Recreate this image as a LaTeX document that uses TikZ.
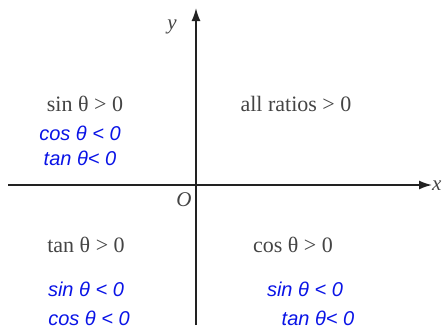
\documentclass[tikz,border=0pt]{standalone}
\usepackage{fontspec}
\setmainfont{Liberation Serif}
\newfontfamily\handfont{Liberation Sans}
\usetikzlibrary{arrows.meta}
\definecolor{axisgray}{HTML}{222222}
\definecolor{textgray}{HTML}{444444}
\definecolor{penblue}{HTML}{0A14E6}
\tikzset{
  axisline/.style={line width=1.6pt, draw=axisgray, -{Latex[length=13pt,width=9pt]}},
  printed/.style={text=textgray, font=\fontsize{22}{24}\selectfont, inner sep=0pt},
  hand/.style={text=penblue, font=\handfont\itshape\fontsize{20}{22}\selectfont, inner sep=0pt},
  axlabel/.style={text=textgray, font=\itshape\fontsize{21}{23}\selectfont, inner sep=0pt}
}
\begin{document}
\begin{tikzpicture}[x=1pt,y=-1pt]
\useasboundingbox (0,0) rectangle (442,333);
\coordinate (xs) at (8,185);
\coordinate (xe) at (432,185);
\coordinate (ys) at (196,325);
\coordinate (ye) at (196,8);
\draw[axisline] (xs) -- (xe);
\draw[axisline] (ys) -- (ye);
\node[axlabel] (ylab) at (172,27) {y};
\node[axlabel] (olab) at (184,200) {O};
\node[axlabel, anchor=west] (xlab) at (432,186) {x};
\node[printed] (q2) at (85,104) {sin θ > 0};
\node[printed] (q1) at (296,104) {all ratios > 0};
\node[printed] (q3) at (86,245) {tan θ > 0};
\node[printed] (q4) at (293,245) {cos θ > 0};
\node[hand] (q2a) at (80,133) {cos θ < 0};
\node[hand] (q2b) at (80,158) {tan θ< 0};
\node[hand] (q3a) at (86,289) {sin θ < 0};
\node[hand] (q3b) at (89,318) {cos θ < 0};
\node[hand] (q4a) at (305,289) {sin θ < 0};
\node[hand] (q4b) at (318,318) {tan θ< 0};
\end{tikzpicture}
\end{document}
